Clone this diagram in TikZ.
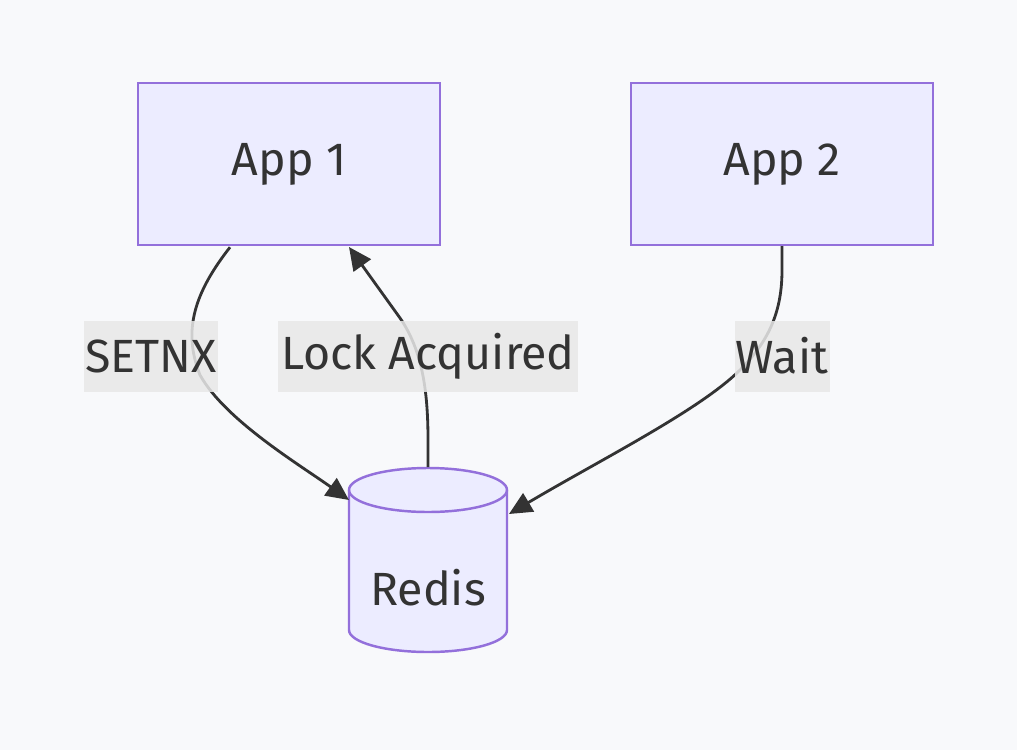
\documentclass[tikz,border=0pt]{standalone}
\usepackage{fontspec}
\setmainfont{Fira Sans}
\usetikzlibrary{arrows.meta,calc}
\definecolor{ink}{HTML}{333333}
\definecolor{lilac}{HTML}{ECECFF}
\definecolor{edge}{HTML}{9370DB}
\definecolor{tag}{HTML}{E8E8E8}
\definecolor{paper}{HTML}{F8F9FB}

\begin{document}
\begin{tikzpicture}[x=0.02cm,y=-0.02cm,font=\fontsize{26.5}{30}\selectfont,text=ink,
 box/.style={draw=edge,fill=lilac,line width=1.4pt,minimum width=302*0.02cm,minimum height=162*0.02cm,inner sep=0pt},
 tagbox/.style={fill=tag,fill opacity=.85,text opacity=1,inner sep=0pt,minimum height=71*0.02cm},
 link/.style={draw=ink,line width=1.6pt,-{Triangle[length=13pt,width=12pt]}}]
\path[fill=paper,use as bounding box] (0,0) rectangle (1017,750);
\node[box] (app1) at (289,164) {App 1};
\node[box] (app2) at (782,164) {App 2};
% Redis cylinder, drawn by hand
\draw[draw=edge,fill=lilac,line width=1.4pt] (349,490) -- (349,630) arc[start angle=180,end angle=0,x radius=79,y radius=22] -- (507,490) arc[start angle=0,end angle=-180,x radius=79,y radius=22] -- cycle;
\draw[draw=edge,line width=1.4pt] (349,490) arc[start angle=180,end angle=0,x radius=79,y radius=22];
\node[inner sep=0pt] (redis) at (428,588) {Redis};
\coordinate (rtop) at (428,467);
\coordinate (rleft) at (349,500);
\coordinate (rright) at (509,514);
\coordinate (a1in) at (349,247);
% connectors
\draw[link] ($(app1.south)+(-59,1)$) .. controls (195,292) and (182,330) .. (200,375) .. controls (225,420) and (300,465) .. (rleft);
\draw[link] (rtop) -- (428,440) .. controls (428,390) and (422,350) .. (400,318) -- (a1in);
\draw[link] (app2.south) -- (782,270) .. controls (782,310) and (770,340) .. (740,370) .. controls (700,410) and (600,460) .. (rright);
% edge labels
\node[tagbox,minimum width=134*0.02cm] (lsetnx) at (151,356) {SETNX};
\node[tagbox,minimum width=300*0.02cm] (llock) at (428,356) {Lock Acquired};
\node[tagbox,minimum width=95*0.02cm] (lwait) at (782,356) {Wait};
\end{tikzpicture}
\end{document}
